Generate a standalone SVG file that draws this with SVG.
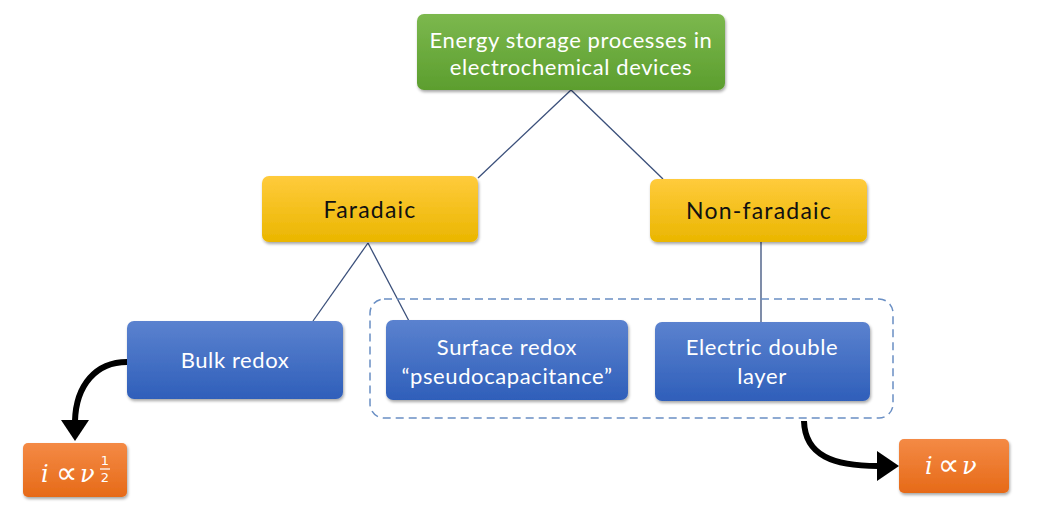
<svg xmlns="http://www.w3.org/2000/svg" width="1043" height="521" viewBox="0 0 1043 521">
<defs>
<style>
.lbl{font-family:"Lato","Open Sans","Liberation Sans",sans-serif;font-size:22px;letter-spacing:0.6px;text-anchor:middle;}
.ylbl{font-size:23px;letter-spacing:1.2px;}
.w{fill:#ffffff;}
.k{fill:#111111;}
.math{font-family:"DejaVu Serif","Liberation Serif",serif;fill:#ffffff;font-size:24px;}
.prop{font-family:"DejaVu Sans","Liberation Sans",sans-serif;fill:#ffffff;font-size:30px;}
.it{font-style:italic;}
.frac{font-family:"DejaVu Sans","Liberation Sans",sans-serif;fill:#ffffff;font-size:13px;text-anchor:middle;}
.conn{stroke:#3a4f7a;stroke-width:1.3;fill:none;}
.arr{stroke:#000000;stroke-width:6;fill:none;}
</style>
<linearGradient id="gGreen" x1="0" y1="0" x2="0" y2="1"><stop offset="0" stop-color="#7cb84e"/><stop offset="1" stop-color="#5c9e2e"/></linearGradient>
<linearGradient id="gYellow" x1="0" y1="0" x2="0" y2="1"><stop offset="0" stop-color="#ffcb3c"/><stop offset="1" stop-color="#eab600"/></linearGradient>
<linearGradient id="gBlue" x1="0" y1="0" x2="0" y2="1"><stop offset="0" stop-color="#5b82cf"/><stop offset="1" stop-color="#2f5fba"/></linearGradient>
<linearGradient id="gOrange" x1="0" y1="0" x2="0" y2="1"><stop offset="0" stop-color="#f48a45"/><stop offset="1" stop-color="#e66a18"/></linearGradient>
<filter id="sh" x="-10%" y="-10%" width="120%" height="130%"><feDropShadow dx="1" dy="2" stdDeviation="1.5" flood-color="#000" flood-opacity="0.35"/></filter>
</defs>
<rect width="1043" height="521" fill="#ffffff"/>

<g id="connectors">
<line class="conn" x1="571" y1="90" x2="478" y2="178"/>
<line class="conn" x1="571" y1="90" x2="663" y2="179"/>
<line class="conn" x1="368" y1="243" x2="313" y2="321"/>
<line class="conn" x1="368" y1="243" x2="409" y2="321"/>
<line class="conn" x1="761" y1="242" x2="761" y2="322"/>
<path class="arr" d="M127,362 C96,362 76,385 75,421"/>
<polygon points="61,420 89,420 75,441" fill="#000"/>
<path class="arr" d="M804,421 C805,456 834,466 878,466"/>
<polygon points="877,451 899,466 877,481" fill="#000"/>
</g>

<g id="group-box">
<rect x="370" y="299" width="523" height="119" rx="14" fill="none" stroke="#6a8fc4" stroke-width="1.5" stroke-dasharray="8,5"/>
</g>

<g id="root">
<rect x="417" y="14" width="308" height="76" rx="7" fill="url(#gGreen)" filter="url(#sh)"/>
<text class="lbl w" x="571" y="48">Energy  storage processes in</text>
<text class="lbl w" x="571" y="75">electrochemical  devices</text>
</g>

<g id="faradaic">
<rect x="262" y="176" width="216" height="66" rx="7" fill="url(#gYellow)" filter="url(#sh)"/>
<text class="lbl ylbl k" x="370" y="218">Faradaic</text>
</g>

<g id="nonfaradaic">
<rect x="650" y="179" width="217" height="63" rx="7" fill="url(#gYellow)" filter="url(#sh)"/>
<text class="lbl ylbl k" x="759" y="219">Non-faradaic</text>
</g>

<g id="bulk">
<rect x="127" y="321" width="216" height="78" rx="7" fill="url(#gBlue)" filter="url(#sh)"/>
<text class="lbl w" x="235" y="368">Bulk  redox</text>
</g>

<g id="surface">
<rect x="386" y="320" width="242" height="80" rx="7" fill="url(#gBlue)" filter="url(#sh)"/>
<text class="lbl w" x="507" y="355">Surface  redox</text>
<text class="lbl w" x="507" y="384">“pseudocapacitance”</text>
</g>

<g id="edl">
<rect x="655" y="322" width="215" height="79" rx="7" fill="url(#gBlue)" filter="url(#sh)"/>
<text class="lbl w" x="762" y="355">Electric double</text>
<text class="lbl w" x="762" y="384">layer</text>
</g>

<g id="sqrt-law">
<rect x="23" y="443" width="104" height="54" rx="5" fill="url(#gOrange)" filter="url(#sh)"/>
<text class="math it" x="41" y="482">i</text>
<text class="prop" x="56" y="483">∝</text>
<text class="math it" x="80" y="482">ν</text>
<text class="frac" x="105" y="465">1</text>
<line x1="100" y1="469" x2="110" y2="469" stroke="#ffffff" stroke-width="1.2"/>
<text class="frac" x="105" y="482">2</text>
</g>

<g id="linear-law">
<rect x="899" y="439" width="110" height="54" rx="5" fill="url(#gOrange)" filter="url(#sh)"/>
<text class="math it" x="925" y="474">i</text>
<text class="prop" x="938" y="475">∝</text>
<text class="math it" x="962" y="474">ν</text>
</g>
</svg>
